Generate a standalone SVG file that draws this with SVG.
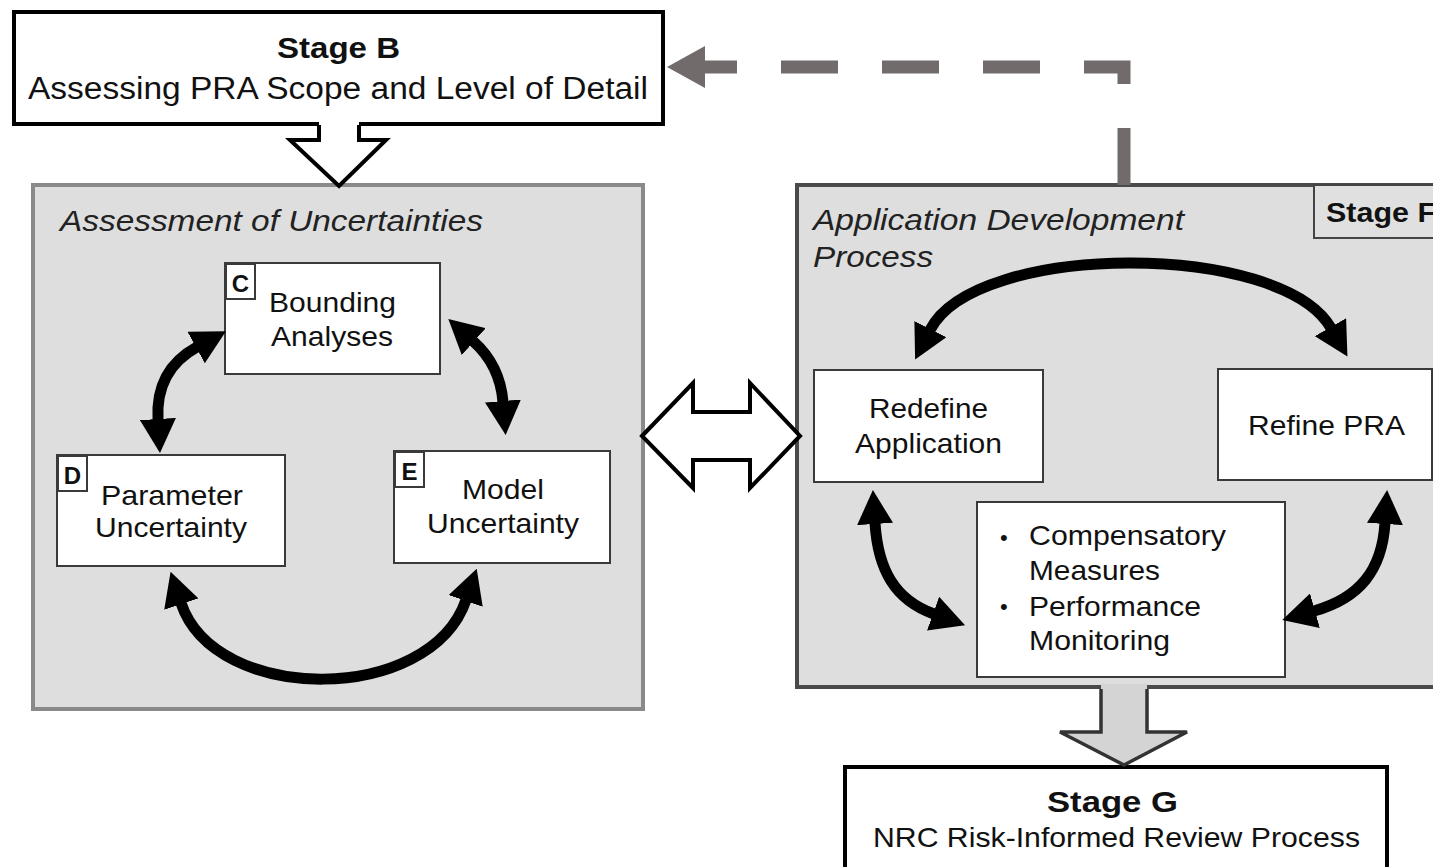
<svg xmlns="http://www.w3.org/2000/svg" width="1433" height="867" viewBox="0 0 1433 867">
<defs>
<marker id="ah" viewBox="0 -18 34 36" refX="1" refY="0" markerWidth="34" markerHeight="36" markerUnits="userSpaceOnUse" orient="auto-start-reverse">
<path d="M0,-18 L34,0 L0,18 Z" fill="#000"/>
</marker>
<style>
text{font-family:"Liberation Sans",Arial,sans-serif;fill:#111}
.b{font-weight:bold}
.i{font-style:italic;fill:#222}
.stage{fill:#fff;stroke:#000;stroke-width:4}
.box{fill:#fff;stroke:#3a3a3a;stroke-width:2}
.lab{fill:#fff;stroke:#3a3a3a;stroke-width:2}
.arc{fill:none;stroke:#000;stroke-width:11;marker-start:url(#ah);marker-end:url(#ah)}
.t{font-size:28px}
.c{text-anchor:middle}
</style>
</defs>
<rect width="1433" height="867" fill="#fff"/>

<g id="panel-uncertainties">
<rect x="33" y="185" width="610" height="524" fill="#dedede" stroke="#8a8a8a" stroke-width="4"/>
<text class="i" x="60" y="231" font-size="30" textLength="423" lengthAdjust="spacingAndGlyphs">Assessment of Uncertainties</text>
</g>

<g id="panel-application">
<rect x="797" y="185" width="660" height="502" fill="#dedede" stroke="#4a4a4a" stroke-width="4"/>
<text class="i" x="813" y="230" font-size="30" textLength="371" lengthAdjust="spacingAndGlyphs">Application Development</text>
<text class="i" x="813" y="267" font-size="30" textLength="120" lengthAdjust="spacingAndGlyphs">Process</text>
<rect x="1314" y="185" width="140" height="53" fill="#e0e0e0" stroke="#444" stroke-width="2"/>
<text class="b" x="1326" y="222" font-size="27" textLength="110" lengthAdjust="spacingAndGlyphs">Stage F</text>
</g>

<g id="stage-b">
<rect class="stage" x="14" y="12" width="649" height="112"/>
<text class="b" x="277" y="58" font-size="30" textLength="123" lengthAdjust="spacingAndGlyphs">Stage B</text>
<text x="28" y="99" font-size="31" textLength="620" lengthAdjust="spacingAndGlyphs">Assessing PRA Scope and Level of Detail</text>
</g>

<g id="stage-g">
<rect class="stage" x="845" y="767" width="542" height="120"/>
<text class="b" x="1047" y="812" font-size="30" textLength="131" lengthAdjust="spacingAndGlyphs">Stage G</text>
<text x="873" y="847" font-size="28" textLength="487" lengthAdjust="spacingAndGlyphs">NRC Risk-Informed Review Process</text>
</g>

<g id="node-c">
<rect class="box" x="225" y="263" width="215" height="111"/>
<rect class="lab" x="226" y="264" width="29" height="35"/>
<text class="b" x="240.5" y="292" font-size="24" text-anchor="middle">C</text>
<text class="t" x="269" y="312" textLength="127" lengthAdjust="spacingAndGlyphs">Bounding</text>
<text class="t" x="271" y="346" textLength="122" lengthAdjust="spacingAndGlyphs">Analyses</text>
</g>

<g id="node-d">
<rect class="box" x="57" y="455" width="228" height="111"/>
<rect class="lab" x="58" y="456" width="29" height="35"/>
<text class="b" x="72.5" y="484" font-size="24" text-anchor="middle">D</text>
<text class="t" x="101" y="505" textLength="142" lengthAdjust="spacingAndGlyphs">Parameter</text>
<text class="t" x="95" y="537" textLength="152" lengthAdjust="spacingAndGlyphs">Uncertainty</text>
</g>

<g id="node-e">
<rect class="box" x="394" y="451" width="216" height="112"/>
<rect class="lab" x="395" y="452" width="29" height="35"/>
<text class="b" x="409.5" y="480" font-size="24" text-anchor="middle">E</text>
<text class="t" x="462" y="499" textLength="82" lengthAdjust="spacingAndGlyphs">Model</text>
<text class="t" x="427" y="533" textLength="152" lengthAdjust="spacingAndGlyphs">Uncertainty</text>
</g>

<g id="node-redefine">
<rect class="box" x="814" y="370" width="229" height="112"/>
<text class="t" x="869" y="418" textLength="119" lengthAdjust="spacingAndGlyphs">Redefine</text>
<text class="t" x="855" y="453" textLength="147" lengthAdjust="spacingAndGlyphs">Application</text>
</g>

<g id="node-refine">
<rect class="box" x="1218" y="369" width="214" height="111"/>
<text class="t" x="1248" y="435" textLength="157" lengthAdjust="spacingAndGlyphs">Refine PRA</text>
</g>

<g id="node-compensatory">
<rect class="box" x="977" y="502" width="308" height="175"/>
<text x="1000" y="545" font-size="22">•</text>
<text class="t" x="1029" y="545" textLength="197" lengthAdjust="spacingAndGlyphs">Compensatory</text>
<text class="t" x="1029" y="580" textLength="131" lengthAdjust="spacingAndGlyphs">Measures</text>
<text x="1000" y="614" font-size="22">•</text>
<text class="t" x="1029" y="616" textLength="172" lengthAdjust="spacingAndGlyphs">Performance</text>
<text class="t" x="1029" y="650" textLength="141" lengthAdjust="spacingAndGlyphs">Monitoring</text>
</g>

<g id="connectors">
<!-- Stage B hollow down arrow -->
<path d="M319,120 L319,140 L290,140 L339,186 L386,140 L359,140 L359,120 Z" fill="#fff"/>
<polyline points="319,125 319,140 290,140 339,186 386,140 359,140 359,125" fill="none" stroke="#000" stroke-width="4" stroke-linejoin="miter"/>
<!-- hollow double arrow between panels -->
<polygon points="642,436 693,383 693,412 750,412 750,383 800,436 750,488 750,460 693,460 693,488" fill="#fff" stroke="#000" stroke-width="4" stroke-linejoin="miter"/>
<!-- gray arrow to Stage G -->
<path d="M1101,684 L1101,732 L1060,732 L1124,765 L1187,732 L1147,732 L1147,684 Z" fill="#d4d4d4"/>
<polyline points="1101,689 1101,732 1060,732 1124,765 1187,732 1147,732 1147,689" fill="none" stroke="#333" stroke-width="3.5" stroke-linejoin="miter"/>
<!-- dashed feedback arrow -->
<path d="M1124,185 V67 H705" fill="none" stroke="#716b6b" stroke-width="13" stroke-dasharray="57 44" stroke-linejoin="miter"/>
<polygon points="667,67 705,46 705,88" fill="#716b6b"/>
<!-- left cycle arcs -->
<path class="arc" d="M158,420 Q155,370 197,347"/>
<path class="arc" d="M473,341 Q500,365 503,402"/>
<path class="arc" d="M181,603 C215,705 430,705 466,600"/>
<!-- right cycle arcs -->
<path class="arc" d="M930,330 C975,241 1281,241 1331,328"/>
<path class="arc" d="M875,523 C878,570 895,600 934,614"/>
<path class="arc" d="M1385,523 C1382,570 1360,598 1314,611"/>
</g>
</svg>
